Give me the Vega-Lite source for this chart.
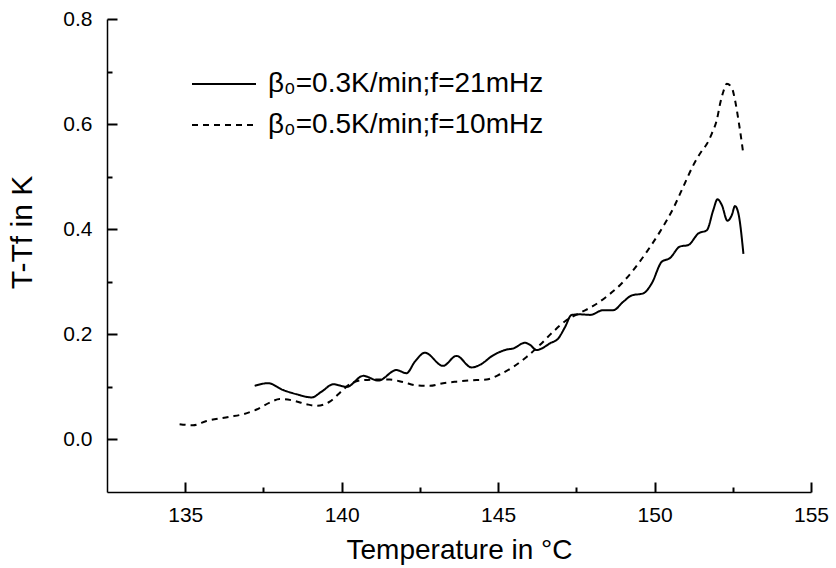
{
  "$schema": "https://vega.github.io/schema/vega-lite/v6.json",
  "width": 704,
  "height": 473,
  "autosize": {"type": "none"},
  "padding": {"left": 107, "top": 19, "right": 25, "bottom": 76},
  "background": "white",
  "config": {
    "view": {"stroke": null},
    "font": "Liberation Sans",
    "axis": {
      "domainColor": "black",
      "domainWidth": 1.5,
      "grid": false,
      "labelFont": "Liberation Sans",
      "labelColor": "black",
      "labelFontSize": 21,
      "titleFont": "Liberation Sans",
      "titleColor": "black",
      "titleFontWeight": "normal",
      "titleFontSize": 28
    }
  },
  "data": {
    "values": [
      {"series": "β₀=0.3K/min;f=21mHz", "T": 137.22, "v": 0.102},
      {"series": "β₀=0.3K/min;f=21mHz", "T": 137.65, "v": 0.107},
      {"series": "β₀=0.3K/min;f=21mHz", "T": 138.13, "v": 0.094},
      {"series": "β₀=0.3K/min;f=21mHz", "T": 138.56, "v": 0.086},
      {"series": "β₀=0.3K/min;f=21mHz", "T": 139.04, "v": 0.080},
      {"series": "β₀=0.3K/min;f=21mHz", "T": 139.36, "v": 0.091},
      {"series": "β₀=0.3K/min;f=21mHz", "T": 139.73, "v": 0.105},
      {"series": "β₀=0.3K/min;f=21mHz", "T": 140.16, "v": 0.100},
      {"series": "β₀=0.3K/min;f=21mHz", "T": 140.69, "v": 0.121},
      {"series": "β₀=0.3K/min;f=21mHz", "T": 141.17, "v": 0.112},
      {"series": "β₀=0.3K/min;f=21mHz", "T": 141.75, "v": 0.132},
      {"series": "β₀=0.3K/min;f=21mHz", "T": 142.07, "v": 0.126},
      {"series": "β₀=0.3K/min;f=21mHz", "T": 142.34, "v": 0.148},
      {"series": "β₀=0.3K/min;f=21mHz", "T": 142.66, "v": 0.165},
      {"series": "β₀=0.3K/min;f=21mHz", "T": 143.24, "v": 0.140},
      {"series": "β₀=0.3K/min;f=21mHz", "T": 143.67, "v": 0.159},
      {"series": "β₀=0.3K/min;f=21mHz", "T": 144.15, "v": 0.137},
      {"series": "β₀=0.3K/min;f=21mHz", "T": 144.42, "v": 0.142},
      {"series": "β₀=0.3K/min;f=21mHz", "T": 144.84, "v": 0.160},
      {"series": "β₀=0.3K/min;f=21mHz", "T": 145.27, "v": 0.171},
      {"series": "β₀=0.3K/min;f=21mHz", "T": 145.48, "v": 0.173},
      {"series": "β₀=0.3K/min;f=21mHz", "T": 145.86, "v": 0.184},
      {"series": "β₀=0.3K/min;f=21mHz", "T": 146.02, "v": 0.180},
      {"series": "β₀=0.3K/min;f=21mHz", "T": 146.23, "v": 0.170},
      {"series": "β₀=0.3K/min;f=21mHz", "T": 146.39, "v": 0.173},
      {"series": "β₀=0.3K/min;f=21mHz", "T": 146.66, "v": 0.183},
      {"series": "β₀=0.3K/min;f=21mHz", "T": 146.92, "v": 0.192},
      {"series": "β₀=0.3K/min;f=21mHz", "T": 147.14, "v": 0.214},
      {"series": "β₀=0.3K/min;f=21mHz", "T": 147.35, "v": 0.237},
      {"series": "β₀=0.3K/min;f=21mHz", "T": 147.62, "v": 0.238},
      {"series": "β₀=0.3K/min;f=21mHz", "T": 147.94, "v": 0.237},
      {"series": "β₀=0.3K/min;f=21mHz", "T": 148.36, "v": 0.246},
      {"series": "β₀=0.3K/min;f=21mHz", "T": 148.68, "v": 0.246},
      {"series": "β₀=0.3K/min;f=21mHz", "T": 149.0, "v": 0.262},
      {"series": "β₀=0.3K/min;f=21mHz", "T": 149.27, "v": 0.274},
      {"series": "β₀=0.3K/min;f=21mHz", "T": 149.64, "v": 0.278},
      {"series": "β₀=0.3K/min;f=21mHz", "T": 149.91, "v": 0.297},
      {"series": "β₀=0.3K/min;f=21mHz", "T": 150.23, "v": 0.338},
      {"series": "β₀=0.3K/min;f=21mHz", "T": 150.49, "v": 0.345},
      {"series": "β₀=0.3K/min;f=21mHz", "T": 150.81, "v": 0.367},
      {"series": "β₀=0.3K/min;f=21mHz", "T": 151.08, "v": 0.370},
      {"series": "β₀=0.3K/min;f=21mHz", "T": 151.4, "v": 0.392},
      {"series": "β₀=0.3K/min;f=21mHz", "T": 151.67, "v": 0.398},
      {"series": "β₀=0.3K/min;f=21mHz", "T": 151.88, "v": 0.437},
      {"series": "β₀=0.3K/min;f=21mHz", "T": 152.01, "v": 0.457},
      {"series": "β₀=0.3K/min;f=21mHz", "T": 152.15, "v": 0.446},
      {"series": "β₀=0.3K/min;f=21mHz", "T": 152.33, "v": 0.416},
      {"series": "β₀=0.3K/min;f=21mHz", "T": 152.47, "v": 0.427},
      {"series": "β₀=0.3K/min;f=21mHz", "T": 152.57, "v": 0.444},
      {"series": "β₀=0.3K/min;f=21mHz", "T": 152.68, "v": 0.430},
      {"series": "β₀=0.3K/min;f=21mHz", "T": 152.84, "v": 0.353},
      {"series": "β₀=0.5K/min;f=10mHz", "T": 134.82, "v": 0.029},
      {"series": "β₀=0.5K/min;f=10mHz", "T": 135.25, "v": 0.027},
      {"series": "β₀=0.5K/min;f=10mHz", "T": 135.68, "v": 0.035},
      {"series": "β₀=0.5K/min;f=10mHz", "T": 136.42, "v": 0.043},
      {"series": "β₀=0.5K/min;f=10mHz", "T": 136.85, "v": 0.048},
      {"series": "β₀=0.5K/min;f=10mHz", "T": 137.28, "v": 0.057},
      {"series": "β₀=0.5K/min;f=10mHz", "T": 137.7, "v": 0.070},
      {"series": "β₀=0.5K/min;f=10mHz", "T": 138.02, "v": 0.077},
      {"series": "β₀=0.5K/min;f=10mHz", "T": 138.45, "v": 0.074},
      {"series": "β₀=0.5K/min;f=10mHz", "T": 138.88, "v": 0.067},
      {"series": "β₀=0.5K/min;f=10mHz", "T": 139.2, "v": 0.064},
      {"series": "β₀=0.5K/min;f=10mHz", "T": 139.62, "v": 0.072},
      {"series": "β₀=0.5K/min;f=10mHz", "T": 139.89, "v": 0.086},
      {"series": "β₀=0.5K/min;f=10mHz", "T": 140.05, "v": 0.095},
      {"series": "β₀=0.5K/min;f=10mHz", "T": 140.26, "v": 0.105},
      {"series": "β₀=0.5K/min;f=10mHz", "T": 140.69, "v": 0.113},
      {"series": "β₀=0.5K/min;f=10mHz", "T": 141.12, "v": 0.114},
      {"series": "β₀=0.5K/min;f=10mHz", "T": 141.54, "v": 0.114},
      {"series": "β₀=0.5K/min;f=10mHz", "T": 141.97, "v": 0.109},
      {"series": "β₀=0.5K/min;f=10mHz", "T": 142.39, "v": 0.103},
      {"series": "β₀=0.5K/min;f=10mHz", "T": 142.82, "v": 0.102},
      {"series": "β₀=0.5K/min;f=10mHz", "T": 143.24, "v": 0.107},
      {"series": "β₀=0.5K/min;f=10mHz", "T": 143.67, "v": 0.110},
      {"series": "β₀=0.5K/min;f=10mHz", "T": 144.31, "v": 0.113},
      {"series": "β₀=0.5K/min;f=10mHz", "T": 144.63, "v": 0.114},
      {"series": "β₀=0.5K/min;f=10mHz", "T": 145.06, "v": 0.124},
      {"series": "β₀=0.5K/min;f=10mHz", "T": 145.48, "v": 0.138},
      {"series": "β₀=0.5K/min;f=10mHz", "T": 145.91, "v": 0.157},
      {"series": "β₀=0.5K/min;f=10mHz", "T": 146.34, "v": 0.180},
      {"series": "β₀=0.5K/min;f=10mHz", "T": 146.76, "v": 0.205},
      {"series": "β₀=0.5K/min;f=10mHz", "T": 147.19, "v": 0.227},
      {"series": "β₀=0.5K/min;f=10mHz", "T": 147.62, "v": 0.241},
      {"series": "β₀=0.5K/min;f=10mHz", "T": 148.04, "v": 0.254},
      {"series": "β₀=0.5K/min;f=10mHz", "T": 148.47, "v": 0.272},
      {"series": "β₀=0.5K/min;f=10mHz", "T": 148.9, "v": 0.294},
      {"series": "β₀=0.5K/min;f=10mHz", "T": 149.32, "v": 0.322},
      {"series": "β₀=0.5K/min;f=10mHz", "T": 149.75, "v": 0.357},
      {"series": "β₀=0.5K/min;f=10mHz", "T": 150.17, "v": 0.395},
      {"series": "β₀=0.5K/min;f=10mHz", "T": 150.6, "v": 0.440},
      {"series": "β₀=0.5K/min;f=10mHz", "T": 150.92, "v": 0.481},
      {"series": "β₀=0.5K/min;f=10mHz", "T": 151.24, "v": 0.522},
      {"series": "β₀=0.5K/min;f=10mHz", "T": 151.51, "v": 0.549},
      {"series": "β₀=0.5K/min;f=10mHz", "T": 151.67, "v": 0.562},
      {"series": "β₀=0.5K/min;f=10mHz", "T": 151.83, "v": 0.582},
      {"series": "β₀=0.5K/min;f=10mHz", "T": 151.99, "v": 0.608},
      {"series": "β₀=0.5K/min;f=10mHz", "T": 152.1, "v": 0.640},
      {"series": "β₀=0.5K/min;f=10mHz", "T": 152.2, "v": 0.662},
      {"series": "β₀=0.5K/min;f=10mHz", "T": 152.31, "v": 0.677},
      {"series": "β₀=0.5K/min;f=10mHz", "T": 152.47, "v": 0.669},
      {"series": "β₀=0.5K/min;f=10mHz", "T": 152.57, "v": 0.646},
      {"series": "β₀=0.5K/min;f=10mHz", "T": 152.68, "v": 0.608},
      {"series": "β₀=0.5K/min;f=10mHz", "T": 152.79, "v": 0.564},
      {"series": "β₀=0.5K/min;f=10mHz", "T": 152.84, "v": 0.542}
    ]
  },
  "resolve": {"axis": {"x": "independent", "y": "independent"}},
  "layer": [
    {
      "mark": {"type": "point", "opacity": 0},
      "encoding": {
        "x": {
          "field": "T",
          "type": "quantitative",
          "scale": {"domain": [132.5, 155], "nice": false, "zero": false},
          "axis": {
            "orient": "bottom",
            "title": null,
            "domain": false,
            "labels": false,
            "values": [137.5, 142.5, 147.5, 152.5],
            "tickSize": -5,
            "tickWidth": 2,
            "tickColor": "black"
          }
        },
        "y": {
          "field": "v",
          "type": "quantitative",
          "scale": {"domain": [-0.1, 0.8], "nice": false, "zero": false},
          "axis": {
            "orient": "left",
            "title": null,
            "domain": false,
            "labels": false,
            "values": [0.1, 0.3, 0.5, 0.7],
            "tickSize": -5,
            "tickWidth": 2,
            "tickColor": "black"
          }
        }
      }
    },
    {
      "mark": {"type": "line", "interpolate": "monotone", "strokeWidth": 2, "color": "black", "clip": true},
      "encoding": {
        "x": {
          "field": "T",
          "type": "quantitative",
          "scale": {"domain": [132.5, 155], "nice": false, "zero": false},
          "axis": {
            "orient": "bottom",
            "title": "Temperature in °C",
            "values": [135, 140, 145, 150, 155],
            "format": "d",
            "tickSize": -10,
            "tickWidth": 2,
            "tickColor": "black",
            "labelPadding": 22,
            "labelFlush": false,
            "labelOverlap": false,
            "titlePadding": 11
          }
        },
        "y": {
          "field": "v",
          "type": "quantitative",
          "scale": {"domain": [-0.1, 0.8], "nice": false, "zero": false},
          "axis": {
            "orient": "left",
            "title": "T-Tf in K",
            "values": [0, 0.2, 0.4, 0.6, 0.8],
            "format": ".1f",
            "tickSize": -10,
            "tickWidth": 2,
            "tickColor": "black",
            "labelPadding": 25,
            "labelFlush": false,
            "labelOverlap": false,
            "titleFontSize": 30,
            "titleX": -85,
            "titleY": 213,
            "titleAngle": 270,
            "titleAlign": "center",
            "titleBaseline": "middle"
          }
        },
        "strokeDash": {
          "field": "series",
          "type": "nominal",
          "scale": {
            "domain": ["β₀=0.3K/min;f=21mHz", "β₀=0.5K/min;f=10mHz"],
            "range": [[1, 0], [6, 5]]
          },
          "legend": {
            "title": null,
            "orient": "none",
            "legendX": 84,
            "legendY": 49,
            "padding": 0,
            "symbolType": "stroke",
            "symbolSize": 4096,
            "symbolStrokeWidth": 2,
            "symbolStrokeColor": "black",
            "clipHeight": 32,
            "rowPadding": 9,
            "labelOffset": 11,
            "labelFont": "Liberation Sans",
            "labelFontSize": 28,
            "labelColor": "black",
            "labelLimit": 0
          }
        }
      }
    }
  ]
}
